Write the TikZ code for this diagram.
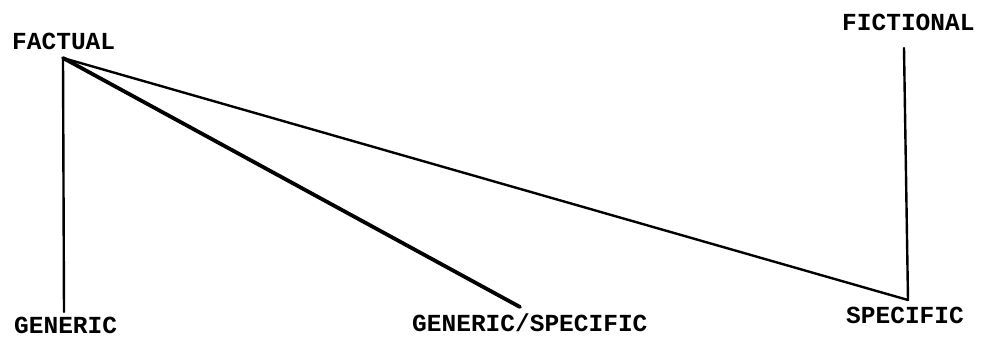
\documentclass[tikz,border=0pt]{standalone}
\usepackage{fontspec}
\setmonofont{Liberation Mono}
\begin{document}
\begin{tikzpicture}[x=1pt,y=-1pt,
  lbl/.style={font=\ttfamily\bfseries\fontsize{24.5}{24.5}\selectfont, inner sep=0pt, anchor=west},
  ln/.style={line width=2.4pt, line join=round, line cap=round}]
\useasboundingbox (0,0) rectangle (983,339);
\node[lbl] (factual) at (12,41) {FACTUAL};
\node[lbl] (fictional) at (842,22) {FICTIONAL};
\node[lbl] (generic) at (14,325) {GENERIC};
\node[lbl] (genspec) at (412,323) {GENERIC/SPECIFIC};
\node[lbl] (specific) at (846,315) {SPECIFIC};
\coordinate (apex) at (63,58);
\coordinate (gbot) at (64,312);
\coordinate (gsend) at (520,307);
\coordinate (corner) at (908,300);
\coordinate (ftop) at (904,48);
\draw[ln] (apex) -- (gbot);
\draw[ln, line width=3.8pt] (apex) -- (gsend);
\draw[ln] (apex) -- (corner) -- (ftop);
\end{tikzpicture}
\end{document}
